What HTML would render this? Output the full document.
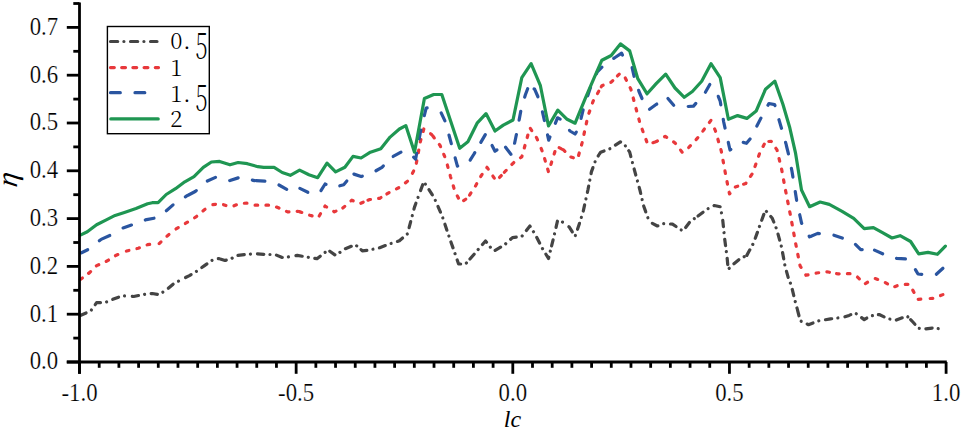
<!DOCTYPE html>
<html><head><meta charset="utf-8"><title>chart</title>
<style>html,body{margin:0;padding:0;background:#fff;}svg{display:block;}text{font-family:"Liberation Serif",serif;}.lg{font-family:"Noto Serif CJK SC","Liberation Serif",serif;font-weight:300;}.lg5{font-weight:200;}</style></head>
<body><svg width="962" height="431" viewBox="0 0 962 431">
<path d="M80.3,315.5 L90.8,310.9 L94.3,306.0" fill="none" stroke-width="3.2" stroke-linecap="round" stroke-linejoin="round" stroke="#444444" stroke-dasharray="6.3 6.2 0.01 6.6" stroke-dashoffset="0" /><path d="M94.3,306.0 L96.6,302.7 L105.8,302.3 L112.8,299.3 L122.1,295.8 L130.7,296.3" fill="none" stroke-width="3.2" stroke-linecap="round" stroke-linejoin="round" stroke="#444444" stroke-dasharray="6.3 6.2 0.01 6.6" stroke-dashoffset="-1.6" /><path d="M130.7,296.3 L133.7,296.5 L143.0,294.6 L152.3,293.5 L159.2,294.6 L166.2,290.0 L167.1,289.3" fill="none" stroke-width="3.2" stroke-linecap="round" stroke-linejoin="round" stroke="#444444" stroke-dasharray="6.3 6.2 0.01 6.6" stroke-dashoffset="-1.6" /><path d="M167.1,289.3 L173.1,284.2 L180.1,280.2 L184.1,278.2" fill="none" stroke-width="3.2" stroke-linecap="round" stroke-linejoin="round" stroke="#444444" stroke-dasharray="6.3 6.2 0.01 6.6" stroke-dashoffset="-1.6" /><path d="M184.1,278.2 L189.4,275.6 L196.4,271.4 L204.5,265.6 L212.9,259.7 L218.7,258.6" fill="none" stroke-width="3.2" stroke-linecap="round" stroke-linejoin="round" stroke="#444444" stroke-dasharray="6.3 6.2 0.01 6.6" stroke-dashoffset="-1.6" /><path d="M218.7,258.6 L218.7,258.6 L225.0,260.5 L231.5,258.6 L236.1,255.7 L245.4,254.5 L255.9,253.7" fill="none" stroke-width="3.2" stroke-linecap="round" stroke-linejoin="round" stroke="#444444" stroke-dasharray="6.3 6.2 0.01 6.6" stroke-dashoffset="-1.6" /><path d="M255.9,253.7 L255.9,253.7 L264.6,254.5 L275.0,254.5 L282.2,257.5 L288.0,257.0 L294.4,255.9" fill="none" stroke-width="3.2" stroke-linecap="round" stroke-linejoin="round" stroke="#444444" stroke-dasharray="6.3 6.2 0.01 6.6" stroke-dashoffset="-1.6" /><path d="M294.4,255.9 L297.3,255.4 L306.6,257.0 L317.0,258.7 L325.1,252.4 L328.2,251.6" fill="none" stroke-width="3.2" stroke-linecap="round" stroke-linejoin="round" stroke="#444444" stroke-dasharray="6.3 6.2 0.01 6.6" stroke-dashoffset="-1.6" /><path d="M328.2,251.6 L329.8,251.2 L335.6,255.4 L344.9,248.9 L355.3,244.7 L359.8,248.6" fill="none" stroke-width="3.2" stroke-linecap="round" stroke-linejoin="round" stroke="#444444" stroke-dasharray="6.3 6.2 0.01 6.6" stroke-dashoffset="-1.6" /><path d="M359.8,248.6 L362.3,250.8 L369.2,250.1 L379.7,247.7 L390.1,243.8 L399.4,240.8 L407.5,233.8 L414.5,207.1 L420.0,192.1" fill="none" stroke-width="3.2" stroke-linecap="round" stroke-linejoin="round" stroke="#444444" stroke-dasharray="6.3 6.2 0.01 6.6" stroke-dashoffset="-1.6" /><path d="M420.0,192.1 L423.8,181.6 L434.2,197.8 L442.3,216.4 L449.3,237.3 L450.4,240.4" fill="none" stroke-width="3.2" stroke-linecap="round" stroke-linejoin="round" stroke="#444444" stroke-dasharray="6.3 6.2 0.01 6.6" stroke-dashoffset="-1.6" /><path d="M450.4,240.4 L458.6,264.0 L465.5,264.0 L468.9,260.2" fill="none" stroke-width="3.2" stroke-linecap="round" stroke-linejoin="round" stroke="#444444" stroke-dasharray="6.3 6.2 0.01 6.6" stroke-dashoffset="-1.6" /><path d="M468.9,260.2 L474.8,253.5 L485.5,241.0 L493.6,251.3 L493.8,251.2" fill="none" stroke-width="3.2" stroke-linecap="round" stroke-linejoin="round" stroke="#444444" stroke-dasharray="6.3 6.2 0.01 6.6" stroke-dashoffset="-1.6" /><path d="M493.8,251.2 L504.5,244.8 L512.5,237.6 L521.8,236.4 L525.4,231.8" fill="none" stroke-width="3.2" stroke-linecap="round" stroke-linejoin="round" stroke="#444444" stroke-dasharray="6.3 6.2 0.01 6.6" stroke-dashoffset="-1.6" /><path d="M525.4,231.8 L529.9,226.0 L535.7,235.3 L541.5,246.9 L548.5,258.5 L551.2,247.5" fill="none" stroke-width="3.2" stroke-linecap="round" stroke-linejoin="round" stroke="#444444" stroke-dasharray="6.3 6.2 0.01 6.6" stroke-dashoffset="-1.6" /><path d="M551.2,247.5 L553.1,239.9 L557.7,220.2 L563.5,222.5 L567.6,225.7" fill="none" stroke-width="3.2" stroke-linecap="round" stroke-linejoin="round" stroke="#444444" stroke-dasharray="6.3 6.2 0.01 6.6" stroke-dashoffset="-1.6" /><path d="M567.6,225.7 L569.3,227.1 L575.1,236.4 L579.8,222.5 L583.3,210.9 L587.9,190.0 L591.4,171.9 L596.0,159.2 L598.3,155.8" fill="none" stroke-width="3.2" stroke-linecap="round" stroke-linejoin="round" stroke="#444444" stroke-dasharray="6.3 6.2 0.01 6.6" stroke-dashoffset="-1.6" /><path d="M598.3,155.8 L600.7,152.2 L610.0,148.7 L620.4,141.8 L625.0,145.3 L627.8,149.4" fill="none" stroke-width="3.2" stroke-linecap="round" stroke-linejoin="round" stroke="#444444" stroke-dasharray="6.3 6.2 0.01 6.6" stroke-dashoffset="-1.6" /><path d="M627.8,149.4 L629.7,152.2 L634.3,169.6 L640.0,190.4 L643.5,205.5 L649.3,221.8 L650.9,222.6" fill="none" stroke-width="3.2" stroke-linecap="round" stroke-linejoin="round" stroke="#444444" stroke-dasharray="6.3 6.2 0.01 6.6" stroke-dashoffset="-1.6" /><path d="M650.9,222.6 L657.4,226.0 L663.2,223.6 L668.9,223.9" fill="none" stroke-width="3.2" stroke-linecap="round" stroke-linejoin="round" stroke="#444444" stroke-dasharray="6.3 6.2 0.01 6.6" stroke-dashoffset="-1.6" /><path d="M668.9,223.9 L672.5,224.1 L682.9,231.1 L689.9,221.8 L696.7,216.9" fill="none" stroke-width="3.2" stroke-linecap="round" stroke-linejoin="round" stroke="#444444" stroke-dasharray="6.3 6.2 0.01 6.6" stroke-dashoffset="-1.6" /><path d="M696.7,216.9 L698.0,216.0 L707.3,209.0 L714.3,205.5 L720.1,206.7 L722.4,217.1 L722.6,218.7" fill="none" stroke-width="3.2" stroke-linecap="round" stroke-linejoin="round" stroke="#444444" stroke-dasharray="6.3 6.2 0.01 6.6" stroke-dashoffset="-1.6" /><path d="M722.6,218.7 L724.7,239.2 L727.0,256.6 L728.2,269.3 L732.8,264.7 L739.8,258.9 L745.4,256.1" fill="none" stroke-width="3.2" stroke-linecap="round" stroke-linejoin="round" stroke="#444444" stroke-dasharray="6.3 6.2 0.01 6.6" stroke-dashoffset="-1.6" /><path d="M745.4,256.1 L746.8,255.4 L753.7,242.7 L759.5,226.4 L765.3,210.2 L772.3,218.3 L776.9,229.9 L781.6,247.3 L785.0,265.9 L788.5,278.6 L791.1,284.8 L795.7,303.4 L797.0,308.1" fill="none" stroke-width="3.2" stroke-linecap="round" stroke-linejoin="round" stroke="#444444" stroke-dasharray="6.3 6.2 0.01 6.6" stroke-dashoffset="-1.6" /><path d="M797.0,308.1 L800.3,320.8 L808.5,324.7 L818.9,320.8 L823.9,320.0" fill="none" stroke-width="3.2" stroke-linecap="round" stroke-linejoin="round" stroke="#444444" stroke-dasharray="6.3 6.2 0.01 6.6" stroke-dashoffset="-1.6" /><path d="M823.9,320.0 L830.5,318.9 L843.3,317.3 L843.4,317.3" fill="none" stroke-width="3.2" stroke-linecap="round" stroke-linejoin="round" stroke="#444444" stroke-dasharray="6.3 6.2 0.01 6.6" stroke-dashoffset="-1.6" /><path d="M843.4,317.3 L849.1,315.4 L854.9,312.7 L864.2,319.6 L870.0,316.1 L876.8,314.9" fill="none" stroke-width="3.2" stroke-linecap="round" stroke-linejoin="round" stroke="#444444" stroke-dasharray="6.3 6.2 0.01 6.6" stroke-dashoffset="-1.6" /><path d="M876.8,314.9 L879.2,314.5 L887.4,318.5 L895.5,320.3 L907.1,316.1 L909.5,318.5" fill="none" stroke-width="3.2" stroke-linecap="round" stroke-linejoin="round" stroke="#444444" stroke-dasharray="6.3 6.2 0.01 6.6" stroke-dashoffset="-1.6" /><path d="M909.5,318.5 L912.9,322.0 L918.7,328.4 L925.7,328.9 L934.9,327.7 L944.2,330.1" fill="none" stroke-width="3.2" stroke-linecap="round" stroke-linejoin="round" stroke="#444444" stroke-dasharray="6.3 6.2 0.01 6.6" stroke-dashoffset="-1.6" /><path d="M80.3,279.5 L87.3,274.3" fill="none" stroke-width="3.2" stroke-linecap="round" stroke-linejoin="round" stroke="#e8383b" stroke-dasharray="2.6 8.25" stroke-dashoffset="0" /><path d="M87.3,274.3 L89.6,272.6 L96.6,265.6 L105.8,261.7 L116.3,255.2 L124.9,251.7" fill="none" stroke-width="3.2" stroke-linecap="round" stroke-linejoin="round" stroke="#e8383b" stroke-dasharray="2.6 8.25" stroke-dashoffset="-1.6" /><path d="M124.9,251.7 L126.7,251.0 L138.3,248.2 L147.6,244.7 L154.6,243.6 L157.5,243.6" fill="none" stroke-width="3.2" stroke-linecap="round" stroke-linejoin="round" stroke="#e8383b" stroke-dasharray="2.6 8.25" stroke-dashoffset="-1.6" /><path d="M157.5,243.6 L159.2,243.6 L166.5,236.5 L174.7,229.9" fill="none" stroke-width="3.2" stroke-linecap="round" stroke-linejoin="round" stroke="#e8383b" stroke-dasharray="2.6 8.25" stroke-dashoffset="-1.6" /><path d="M174.7,229.9 L175.5,229.3 L187.1,222.4 L196.4,216.6 L204.5,209.6 L211.5,205.4" fill="none" stroke-width="3.2" stroke-linecap="round" stroke-linejoin="round" stroke="#e8383b" stroke-dasharray="2.6 8.25" stroke-dashoffset="-1.6" /><path d="M211.5,205.4 L212.6,204.7 L220.5,203.6 L228.0,206.2 L233.0,206.2 L240.0,203.3 L248.0,203.2 L253.0,205.2 L253.5,205.2" fill="none" stroke-width="3.2" stroke-linecap="round" stroke-linejoin="round" stroke="#e8383b" stroke-dasharray="2.6 8.25" stroke-dashoffset="-1.6" /><path d="M253.5,205.2 L270.0,205.2 L275.5,206.6 L288.0,212.0 L297.8,211.3" fill="none" stroke-width="3.2" stroke-linecap="round" stroke-linejoin="round" stroke="#e8383b" stroke-dasharray="2.6 8.25" stroke-dashoffset="-1.6" /><path d="M297.8,211.3 L298.4,211.3 L310.0,215.3 L318.2,217.6 L325.1,206.0 L334.4,211.8 L341.4,208.8" fill="none" stroke-width="3.2" stroke-linecap="round" stroke-linejoin="round" stroke="#e8383b" stroke-dasharray="2.6 8.25" stroke-dashoffset="-1.6" /><path d="M341.4,208.8 L342.5,208.3 L351.8,200.2 L359.9,203.6 L366.5,200.8" fill="none" stroke-width="3.2" stroke-linecap="round" stroke-linejoin="round" stroke="#e8383b" stroke-dasharray="2.6 8.25" stroke-dashoffset="-1.6" /><path d="M366.5,200.8 L369.2,199.7 L379.7,198.3 L385.5,194.8" fill="none" stroke-width="3.2" stroke-linecap="round" stroke-linejoin="round" stroke="#e8383b" stroke-dasharray="2.6 8.25" stroke-dashoffset="-1.6" /><path d="M385.5,194.8 L390.1,192.0 L399.4,187.4 L408.7,180.4 L411.7,174.7" fill="none" stroke-width="3.2" stroke-linecap="round" stroke-linejoin="round" stroke="#e8383b" stroke-dasharray="2.6 8.25" stroke-dashoffset="-1.6" /><path d="M411.7,174.7 L415.6,167.3 L420.3,141.8 L423.8,129.0 L431.7,134.6" fill="none" stroke-width="3.2" stroke-linecap="round" stroke-linejoin="round" stroke="#e8383b" stroke-dasharray="2.6 8.25" stroke-dashoffset="-1.6" /><path d="M431.7,134.6 L431.9,134.8 L440.0,145.3 L445.8,159.2 L446.9,163.4" fill="none" stroke-width="3.2" stroke-linecap="round" stroke-linejoin="round" stroke="#e8383b" stroke-dasharray="2.6 8.25" stroke-dashoffset="-1.6" /><path d="M446.9,163.4 L450.5,176.6 L455.1,192.0 L460.9,202.5 L467.9,197.8 L468.7,196.5" fill="none" stroke-width="3.2" stroke-linecap="round" stroke-linejoin="round" stroke="#e8383b" stroke-dasharray="2.6 8.25" stroke-dashoffset="-1.6" /><path d="M468.7,196.5 L476.0,185.1 L481.0,176.0 L487.0,167.3 L496.2,181.0 L503.3,173.4" fill="none" stroke-width="3.2" stroke-linecap="round" stroke-linejoin="round" stroke="#e8383b" stroke-dasharray="2.6 8.25" stroke-dashoffset="-1.6" /><path d="M503.3,173.4 L505.5,171.0 L514.8,161.5 L519.1,158.6" fill="none" stroke-width="3.2" stroke-linecap="round" stroke-linejoin="round" stroke="#e8383b" stroke-dasharray="2.6 8.25" stroke-dashoffset="-1.6" /><path d="M519.1,158.6 L521.8,156.9 L529.9,127.8 L536.9,138.3 L540.5,146.9" fill="none" stroke-width="3.2" stroke-linecap="round" stroke-linejoin="round" stroke="#e8383b" stroke-dasharray="2.6 8.25" stroke-dashoffset="-1.6" /><path d="M540.5,146.9 L542.7,152.2 L548.5,171.9 L556.6,146.4 L561.6,148.9" fill="none" stroke-width="3.2" stroke-linecap="round" stroke-linejoin="round" stroke="#e8383b" stroke-dasharray="2.6 8.25" stroke-dashoffset="-1.6" /><path d="M561.6,148.9 L563.5,149.9 L570.5,156.9 L577.5,159.2 L582.1,142.9 L587.9,116.2 L593.2,101.0 L600.5,88.2" fill="none" stroke-width="3.2" stroke-linecap="round" stroke-linejoin="round" stroke="#e8383b" stroke-dasharray="2.6 8.25" stroke-dashoffset="-1.6" /><path d="M600.5,88.2 L601.9,85.7 L611.2,82.2 L616.3,77.1" fill="none" stroke-width="3.2" stroke-linecap="round" stroke-linejoin="round" stroke="#e8383b" stroke-dasharray="2.6 8.25" stroke-dashoffset="-1.6" /><path d="M616.3,77.1 L619.3,74.1 L624.0,77.0" fill="none" stroke-width="3.2" stroke-linecap="round" stroke-linejoin="round" stroke="#e8383b" stroke-dasharray="2.6 8.25" stroke-dashoffset="-1.6" /><path d="M624.0,77.0 L625.1,77.6 L630.9,89.2 L635.5,106.6 L640.2,124.0 L647.8,144.5 L653.6,142.5" fill="none" stroke-width="3.2" stroke-linecap="round" stroke-linejoin="round" stroke="#e8383b" stroke-dasharray="2.6 8.25" stroke-dashoffset="-1.6" /><path d="M653.6,142.5 L656.4,141.6 L665.2,136.3 L674.9,142.8 L683.2,153.5 L687.6,148.7" fill="none" stroke-width="3.2" stroke-linecap="round" stroke-linejoin="round" stroke="#e8383b" stroke-dasharray="2.6 8.25" stroke-dashoffset="-1.6" /><path d="M687.6,148.7 L698.2,137.3 L711.0,120.3 L714.0,127.4" fill="none" stroke-width="3.2" stroke-linecap="round" stroke-linejoin="round" stroke="#e8383b" stroke-dasharray="2.6 8.25" stroke-dashoffset="-1.6" /><path d="M714.0,127.4 L715.5,131.0 L721.3,151.1 L726.0,176.6 L729.5,194.0 L735.3,187.0 L742.1,184.7" fill="none" stroke-width="3.2" stroke-linecap="round" stroke-linejoin="round" stroke="#e8383b" stroke-dasharray="2.6 8.25" stroke-dashoffset="-1.6" /><path d="M742.1,184.7 L745.7,183.5 L752.7,173.1 L759.6,153.4 L765.4,141.8 L767.2,141.6" fill="none" stroke-width="3.2" stroke-linecap="round" stroke-linejoin="round" stroke="#e8383b" stroke-dasharray="2.6 8.25" stroke-dashoffset="-1.6" /><path d="M767.2,141.6 L771.2,141.3 L777.0,149.9 L781.7,169.6 L785.1,188.2 L790.8,217.1 L795.5,242.7 L800.1,265.9 L804.9,273.5" fill="none" stroke-width="3.2" stroke-linecap="round" stroke-linejoin="round" stroke="#e8383b" stroke-dasharray="2.6 8.25" stroke-dashoffset="-1.6" /><path d="M804.9,273.5 L806.0,275.3 L816.6,273.0 L827.0,271.8 L835.0,273.3" fill="none" stroke-width="3.2" stroke-linecap="round" stroke-linejoin="round" stroke="#e8383b" stroke-dasharray="2.6 8.25" stroke-dashoffset="-1.6" /><path d="M835.0,273.3 L837.5,273.8 L850.2,273.7 L857.2,276.7 L864.5,284.0 L873.8,278.7" fill="none" stroke-width="3.2" stroke-linecap="round" stroke-linejoin="round" stroke="#e8383b" stroke-dasharray="2.6 8.25" stroke-dashoffset="-1.6" /><path d="M873.8,278.7 L874.5,278.3 L884.0,281.8 L893.2,287.3 L900.0,284.6 L903.7,284.5" fill="none" stroke-width="3.2" stroke-linecap="round" stroke-linejoin="round" stroke="#e8383b" stroke-dasharray="2.6 8.25" stroke-dashoffset="-1.6" /><path d="M903.7,284.5 L909.4,284.3 L918.0,299.4 L925.7,298.7 L928.6,298.6" fill="none" stroke-width="3.2" stroke-linecap="round" stroke-linejoin="round" stroke="#e8383b" stroke-dasharray="2.6 8.25" stroke-dashoffset="-1.6" /><path d="M928.6,298.6 L933.8,298.3 L944.2,294.1" fill="none" stroke-width="3.2" stroke-linecap="round" stroke-linejoin="round" stroke="#e8383b" stroke-dasharray="2.6 8.25" stroke-dashoffset="-1.6" /><path d="M81.5,252.8 L88.4,249.4 L100.3,240.0" fill="none" stroke-width="3.2" stroke-linecap="round" stroke-linejoin="round" stroke="#2a55a0" stroke-dasharray="8.9 14.7" stroke-dashoffset="2" /><path d="M100.3,240.0 L101.2,239.3 L110.5,235.2 L121.6,228.6" fill="none" stroke-width="3.2" stroke-linecap="round" stroke-linejoin="round" stroke="#2a55a0" stroke-dasharray="8.9 14.7" stroke-dashoffset="-1.6" /><path d="M121.6,228.6 L122.1,228.3 L132.5,224.7 L146.5,219.6 L156.9,217.7 L166.2,210.8 L174.3,203.8 L187.1,195.7" fill="none" stroke-width="3.2" stroke-linecap="round" stroke-linejoin="round" stroke="#2a55a0" stroke-dasharray="8.9 14.7" stroke-dashoffset="-1.6" /><path d="M187.1,195.7 L187.1,195.7 L195.2,191.5 L206.8,181.3 L216.1,177.1 L230.0,180.6 L240.5,177.1 L254.4,180.6" fill="none" stroke-width="3.2" stroke-linecap="round" stroke-linejoin="round" stroke="#2a55a0" stroke-dasharray="8.9 14.7" stroke-dashoffset="-1.6" /><path d="M254.4,180.6 L254.4,180.6 L264.8,181.1 L276.4,183.6 L286.9,189.4 L298.4,187.7" fill="none" stroke-width="3.2" stroke-linecap="round" stroke-linejoin="round" stroke="#2a55a0" stroke-dasharray="8.9 14.7" stroke-dashoffset="-1.6" /><path d="M298.4,187.7 L298.4,187.7 L308.9,192.8 L319.3,193.3 L325.1,184.0 L333.3,187.7 L343.7,184.7 L352.6,174.3" fill="none" stroke-width="3.2" stroke-linecap="round" stroke-linejoin="round" stroke="#2a55a0" stroke-dasharray="8.9 14.7" stroke-dashoffset="-1.6" /><path d="M352.6,174.3 L353.0,173.8 L361.1,176.6 L373.9,171.9 L382.0,167.3 L391.9,157.4" fill="none" stroke-width="3.2" stroke-linecap="round" stroke-linejoin="round" stroke="#2a55a0" stroke-dasharray="8.9 14.7" stroke-dashoffset="-1.6" /><path d="M391.9,157.4 L392.4,156.9 L402.9,151.1 L411.0,154.5 L415.6,159.2 L420.3,132.5 L426.1,108.1 L429.0,107.7 L440.0,110.4 L440.5,111.4" fill="none" stroke-width="3.2" stroke-linecap="round" stroke-linejoin="round" stroke="#2a55a0" stroke-dasharray="8.9 14.7" stroke-dashoffset="-1.6" /><path d="M440.5,111.4 L445.3,121.7 L450.5,140.6 L457.4,166.1 L467.9,163.8 L473.7,154.5 L480.0,143.7" fill="none" stroke-width="3.2" stroke-linecap="round" stroke-linejoin="round" stroke="#2a55a0" stroke-dasharray="8.9 14.7" stroke-dashoffset="-1.6" /><path d="M480.0,143.7 L486.0,133.5 L495.0,151.2 L504.0,145.0 L504.6,145.9" fill="none" stroke-width="3.2" stroke-linecap="round" stroke-linejoin="round" stroke="#2a55a0" stroke-dasharray="8.9 14.7" stroke-dashoffset="-1.6" /><path d="M504.6,145.9 L512.0,155.8 L516.5,134.0 L521.0,110.0 L525.3,95.0 L528.8,85.7 L532.7,88.0" fill="none" stroke-width="3.2" stroke-linecap="round" stroke-linejoin="round" stroke="#2a55a0" stroke-dasharray="8.9 14.7" stroke-dashoffset="-1.6" /><path d="M532.7,88.0 L534.6,89.2 L539.2,99.6 L542.0,110.3" fill="none" stroke-width="3.2" stroke-linecap="round" stroke-linejoin="round" stroke="#2a55a0" stroke-dasharray="8.9 14.7" stroke-dashoffset="-1.6" /><path d="M542.0,110.3 L542.7,112.8 L548.7,140.2 L557.5,117.8 L561.0,119.5 L570.0,131.0 L575.0,134.0 L578.5,129.0 L583.3,109.1 L590.3,88.0 L597.3,71.8 L605.4,63.6 L614.5,57.9" fill="none" stroke-width="3.2" stroke-linecap="round" stroke-linejoin="round" stroke="#2a55a0" stroke-dasharray="8.9 14.7" stroke-dashoffset="-1.6" /><path d="M614.5,57.9 L614.6,57.8 L621.6,53.2 L623.9,57.8 L631.3,66.3" fill="none" stroke-width="3.2" stroke-linecap="round" stroke-linejoin="round" stroke="#2a55a0" stroke-dasharray="8.9 14.7" stroke-dashoffset="-1.6" /><path d="M631.3,66.3 L632.0,67.1 L634.4,77.6 L639.0,91.5 L642.5,99.6 L648.3,110.1 L656.4,104.3 L666.9,97.3" fill="none" stroke-width="3.2" stroke-linecap="round" stroke-linejoin="round" stroke="#2a55a0" stroke-dasharray="8.9 14.7" stroke-dashoffset="-1.6" /><path d="M666.9,97.3 L666.9,97.3 L673.8,105.4 L686.6,106.6" fill="none" stroke-width="3.2" stroke-linecap="round" stroke-linejoin="round" stroke="#2a55a0" stroke-dasharray="8.9 14.7" stroke-dashoffset="-1.6" /><path d="M686.6,106.6 L686.6,106.6 L693.5,106.1 L705.1,92.7 L709.8,84.5 L716.8,92.7 L720.2,101.2 L723.7,122.0 L730.0,150.0 L741.0,141.8 L741.7,142.0" fill="none" stroke-width="3.2" stroke-linecap="round" stroke-linejoin="round" stroke="#2a55a0" stroke-dasharray="8.9 14.7" stroke-dashoffset="-1.6" /><path d="M741.7,142.0 L746.5,143.3 L750.5,138.5 L761.9,116.2 L768.9,103.5 L774.7,104.6 L779.3,120.9 L785.1,140.6 L785.9,143.7" fill="none" stroke-width="3.2" stroke-linecap="round" stroke-linejoin="round" stroke="#2a55a0" stroke-dasharray="8.9 14.7" stroke-dashoffset="-1.6" /><path d="M785.9,143.7 L788.6,154.5 L792.1,171.9 L796.9,202.0 L801.5,222.9 L809.6,236.9" fill="none" stroke-width="3.2" stroke-linecap="round" stroke-linejoin="round" stroke="#2a55a0" stroke-dasharray="8.9 14.7" stroke-dashoffset="-1.6" /><path d="M809.6,236.9 L809.6,236.9 L817.7,233.4 L831.7,234.5 L842.1,238.0 L853.7,242.7 L860.7,249.6 L873.0,249.6" fill="none" stroke-width="3.2" stroke-linecap="round" stroke-linejoin="round" stroke="#2a55a0" stroke-dasharray="8.9 14.7" stroke-dashoffset="-1.6" /><path d="M873.0,249.6 L873.4,249.6 L882.7,253.8 L896.7,258.4 L906.0,259.0 L909.5,259.5 L914.6,268.2" fill="none" stroke-width="3.2" stroke-linecap="round" stroke-linejoin="round" stroke="#2a55a0" stroke-dasharray="8.9 14.7" stroke-dashoffset="-1.6" /><path d="M914.6,268.2 L918.0,274.0 L924.0,274.5 L936.0,274.5 L945.4,266.0" fill="none" stroke-width="3.2" stroke-linecap="round" stroke-linejoin="round" stroke="#2a55a0" stroke-dasharray="8.9 14.7" stroke-dashoffset="-1.6" /><path d="M80.3,235.1 L87.3,231.7 L96.6,224.7 L105.8,220.1 L115.1,215.4 L124.4,212.4 L136.0,208.5 L147.6,203.8 L152.3,202.7 L158.1,202.7 L166.2,194.5 L175.5,188.7 L184.8,181.8 L194.0,176.7 L203.3,167.4 L211.4,162.0 L219.6,161.4 L230.0,164.8 L238.1,162.5 L247.4,163.7 L257.9,166.7 L263.7,167.4 L274.1,167.4 L282.2,172.5 L290.3,175.3 L299.6,170.1 L308.9,174.7 L317.7,177.7 L327.0,163.1 L335.6,171.9 L344.9,167.3 L353.0,156.4 L361.1,158.0 L370.4,152.2 L380.8,148.7 L390.1,137.1 L399.4,129.0 L405.8,125.6 L414.5,152.2 L424.4,98.5 L433.7,94.5 L441.8,94.5 L459.7,148.3 L467.9,141.8 L477.1,123.2 L486.0,113.6 L495.0,131.0 L503.3,125.1 L513.0,120.0 L521.8,77.6 L531.1,63.6 L540.4,85.7 L548.5,126.0 L557.8,110.1 L567.1,119.3 L575.1,123.2 L585.7,97.3 L593.8,78.7 L601.9,60.2 L611.2,55.5 L620.4,43.9 L629.7,50.9 L637.8,78.7 L647.1,93.8 L656.4,83.4 L665.7,74.1 L675.0,88.0 L684.3,97.3 L692.4,91.5 L701.7,81.2 L711.0,63.7 L720.2,77.6 L728.4,119.3 L737.6,115.6 L746.9,118.4 L756.2,111.0 L765.5,89.2 L774.8,81.1 L782.9,104.3 L789.8,127.8 L795.6,153.4 L801.5,190.0 L809.6,206.7 L820.1,202.0 L829.3,204.4 L842.1,211.3 L853.7,218.3 L864.2,228.7 L873.4,227.6 L881.6,232.2 L892.0,238.0 L900.1,235.7 L910.6,241.5 L918.7,253.8 L928.0,252.4 L937.3,254.3 L945.4,246.1" fill="none" stroke-width="3.2" stroke-linecap="round" stroke-linejoin="round" stroke="#1f9652" />
<g stroke="#000" stroke-width="2.8" fill="none"><line x1="79.5" y1="2.5" x2="79.5" y2="373.8" /><line x1="66.8" y1="362.0" x2="946.8" y2="362.0" /><line x1="66.8" y1="362.00" x2="79.5" y2="362.00" /><line x1="66.8" y1="314.20" x2="79.5" y2="314.20" /><line x1="66.8" y1="266.40" x2="79.5" y2="266.40" /><line x1="66.8" y1="218.60" x2="79.5" y2="218.60" /><line x1="66.8" y1="170.80" x2="79.5" y2="170.80" /><line x1="66.8" y1="123.00" x2="79.5" y2="123.00" /><line x1="66.8" y1="75.20" x2="79.5" y2="75.20" /><line x1="66.8" y1="27.40" x2="79.5" y2="27.40" /><line x1="73.3" y1="338.10" x2="79.5" y2="338.10" /><line x1="73.3" y1="290.30" x2="79.5" y2="290.30" /><line x1="73.3" y1="242.50" x2="79.5" y2="242.50" /><line x1="73.3" y1="194.70" x2="79.5" y2="194.70" /><line x1="73.3" y1="146.90" x2="79.5" y2="146.90" /><line x1="73.3" y1="99.10" x2="79.5" y2="99.10" /><line x1="73.3" y1="51.30" x2="79.5" y2="51.30" /><line x1="73.3" y1="3.50" x2="79.5" y2="3.50" /><line x1="79.50" y1="362.0" x2="79.50" y2="373.8" /><line x1="296.15" y1="362.0" x2="296.15" y2="373.8" /><line x1="512.80" y1="362.0" x2="512.80" y2="373.8" /><line x1="729.45" y1="362.0" x2="729.45" y2="373.8" /><line x1="946.10" y1="362.0" x2="946.10" y2="373.8" /><line x1="99.20" y1="362.0" x2="99.20" y2="367.8" /><line x1="118.89" y1="362.0" x2="118.89" y2="367.8" /><line x1="138.59" y1="362.0" x2="138.59" y2="367.8" /><line x1="158.28" y1="362.0" x2="158.28" y2="367.8" /><line x1="177.98" y1="362.0" x2="177.98" y2="367.8" /><line x1="197.67" y1="362.0" x2="197.67" y2="367.8" /><line x1="217.37" y1="362.0" x2="217.37" y2="367.8" /><line x1="237.06" y1="362.0" x2="237.06" y2="367.8" /><line x1="256.76" y1="362.0" x2="256.76" y2="367.8" /><line x1="276.45" y1="362.0" x2="276.45" y2="367.8" /><line x1="315.85" y1="362.0" x2="315.85" y2="367.8" /><line x1="335.54" y1="362.0" x2="335.54" y2="367.8" /><line x1="355.24" y1="362.0" x2="355.24" y2="367.8" /><line x1="374.93" y1="362.0" x2="374.93" y2="367.8" /><line x1="394.63" y1="362.0" x2="394.63" y2="367.8" /><line x1="414.32" y1="362.0" x2="414.32" y2="367.8" /><line x1="434.02" y1="362.0" x2="434.02" y2="367.8" /><line x1="453.71" y1="362.0" x2="453.71" y2="367.8" /><line x1="473.41" y1="362.0" x2="473.41" y2="367.8" /><line x1="493.10" y1="362.0" x2="493.10" y2="367.8" /><line x1="532.50" y1="362.0" x2="532.50" y2="367.8" /><line x1="552.19" y1="362.0" x2="552.19" y2="367.8" /><line x1="571.89" y1="362.0" x2="571.89" y2="367.8" /><line x1="591.58" y1="362.0" x2="591.58" y2="367.8" /><line x1="611.28" y1="362.0" x2="611.28" y2="367.8" /><line x1="630.97" y1="362.0" x2="630.97" y2="367.8" /><line x1="650.67" y1="362.0" x2="650.67" y2="367.8" /><line x1="670.36" y1="362.0" x2="670.36" y2="367.8" /><line x1="690.06" y1="362.0" x2="690.06" y2="367.8" /><line x1="709.75" y1="362.0" x2="709.75" y2="367.8" /><line x1="749.15" y1="362.0" x2="749.15" y2="367.8" /><line x1="768.84" y1="362.0" x2="768.84" y2="367.8" /><line x1="788.54" y1="362.0" x2="788.54" y2="367.8" /><line x1="808.23" y1="362.0" x2="808.23" y2="367.8" /><line x1="827.93" y1="362.0" x2="827.93" y2="367.8" /><line x1="847.62" y1="362.0" x2="847.62" y2="367.8" /><line x1="867.32" y1="362.0" x2="867.32" y2="367.8" /><line x1="887.01" y1="362.0" x2="887.01" y2="367.8" /><line x1="906.71" y1="362.0" x2="906.71" y2="367.8" /><line x1="926.40" y1="362.0" x2="926.40" y2="367.8" /></g>
<g font-size="24" fill="#000" stroke="#fff" stroke-width="0.2"><text transform="translate(58.2,369.30) scale(0.95,1.07)" text-anchor="end">0.0</text><text transform="translate(58.2,321.50) scale(0.95,1.07)" text-anchor="end">0.1</text><text transform="translate(58.2,273.70) scale(0.95,1.07)" text-anchor="end">0.2</text><text transform="translate(58.2,225.90) scale(0.95,1.07)" text-anchor="end">0.3</text><text transform="translate(58.2,178.10) scale(0.95,1.07)" text-anchor="end">0.4</text><text transform="translate(58.2,130.30) scale(0.95,1.07)" text-anchor="end">0.5</text><text transform="translate(58.2,82.50) scale(0.95,1.07)" text-anchor="end">0.6</text><text transform="translate(58.2,34.70) scale(0.95,1.07)" text-anchor="end">0.7</text><text transform="translate(79.50,400.5) scale(0.95,1.03)" text-anchor="middle">-1.0</text><text transform="translate(296.15,400.5) scale(0.95,1.03)" text-anchor="middle">-0.5</text><text transform="translate(512.80,400.5) scale(0.95,1.03)" text-anchor="middle">0.0</text><text transform="translate(729.45,400.5) scale(0.95,1.03)" text-anchor="middle">0.5</text><text transform="translate(946.10,400.5) scale(0.95,1.03)" text-anchor="middle">1.0</text></g>
<text x="512.5" y="427" text-anchor="middle" font-style="italic" font-size="24">lc</text><text transform="translate(16.5,180.5) rotate(-90) skewX(-8)" text-anchor="middle" font-style="italic" font-size="29">η</text>
<rect x="107.4" y="26.5" width="101.9" height="107.2" fill="#fff" stroke="#000" stroke-width="1.4" /><g stroke-width="3.2" stroke-linecap="round" fill="none"><line x1="110.5" y1="41.5" x2="157" y2="41.5" stroke="#444444" stroke-dasharray="7.2 6.2 0.01 6.6" /><line x1="110.5" y1="67.6" x2="158.5" y2="67.6" stroke="#e8383b" stroke-dasharray="3.8 7.4" /><line x1="110.5" y1="92.7" x2="145.5" y2="92.7" stroke="#2a55a0" stroke-dasharray="9.8 14.7" /><line x1="110.8" y1="118.9" x2="158.2" y2="118.9" stroke="#1f9652" /></g><g font-size="22.5" fill="#000"><text class="lg" x="170.2" y="49.4" letter-spacing="1.0">0.</text><text transform="translate(195.4,58.6) scale(1,1.62)" class="lg lg5">5</text><text class="lg" x="170.2" y="75.5">1</text><text class="lg" x="170.2" y="101.6" letter-spacing="1.0">1.</text><text transform="translate(195.4,110.6) scale(1,1.62)" class="lg lg5">5</text><text class="lg" x="170.2" y="126.8">2</text></g>
</svg></body></html>
